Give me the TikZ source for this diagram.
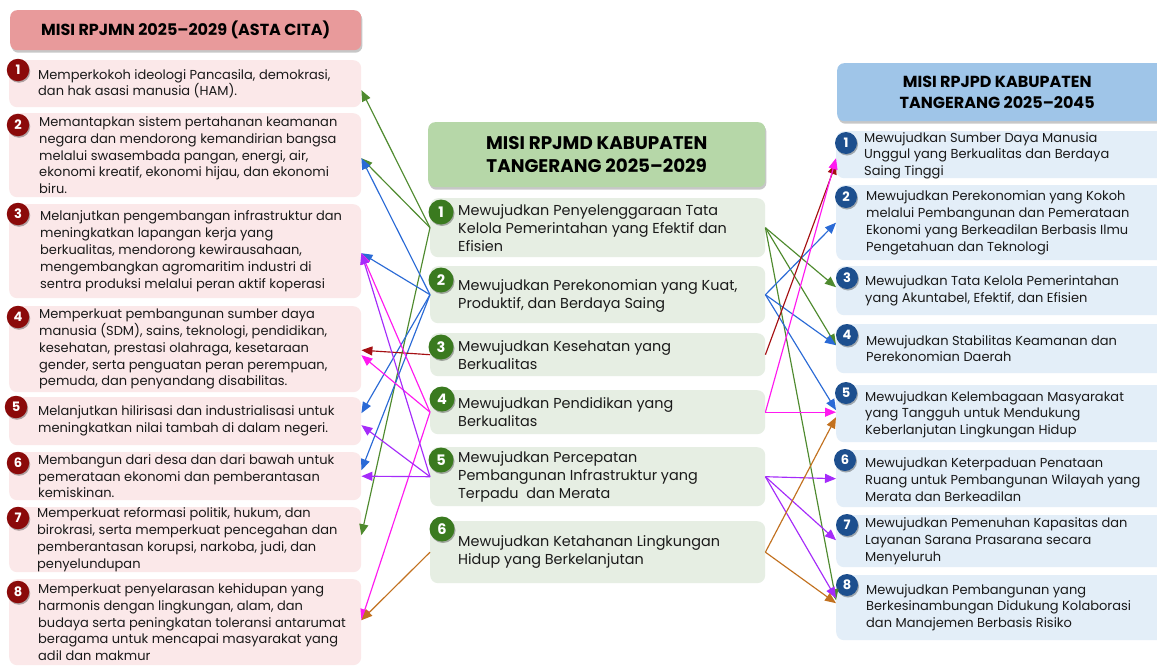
\documentclass[tikz,border=0pt]{standalone}
\usepackage{fontspec}
\setmainfont{Poppins}
\usetikzlibrary{arrows.meta,shadows}
\definecolor{lhead}{HTML}{E89A9B}
\definecolor{lfill}{HTML}{FBE8E9}
\definecolor{chead}{HTML}{B6D7A8}
\definecolor{cfill}{HTML}{E6EEE3}
\definecolor{rhead}{HTML}{9FC5E8}
\definecolor{rfill}{HTML}{E3EEF8}
\definecolor{lnumc}{HTML}{8B0A0A}
\definecolor{cnumc}{HTML}{3A7A1F}
\definecolor{rnumc}{HTML}{1D4F8E}
\definecolor{agreen}{HTML}{4E8A2E}
\definecolor{ablue}{HTML}{2A6AD6}
\definecolor{ared}{HTML}{A50F12}
\definecolor{amag}{HTML}{FF19F0}
\definecolor{apur}{HTML}{A52BFA}
\definecolor{abrown}{HTML}{C2711F}
\definecolor{txt}{HTML}{1A1A1A}
\newcommand{\misibox}[6]{\node[#1, minimum width=#6pt, minimum height={#5pt-#4pt}, anchor=north west] (#2) at (#3,#4) {};}
\begin{document}
\begin{tikzpicture}[x=1pt,y=-1pt,
  shd/.style={drop shadow={shadow xshift=1.2pt, shadow yshift=-2.5pt, fill=black, opacity=0.22}},
  hdr/.style={rounded corners=7pt, inner sep=0pt, align=center, text=black, shd},
  lbox/.style={fill=lfill, rounded corners=8pt, inner sep=0pt},
  cbox/.style={fill=cfill, rounded corners=8pt, inner sep=0pt},
  rbox/.style={fill=rfill, rounded corners=8pt, inner sep=0pt},
  ltxt/.style={align=left, inner sep=0pt, text=txt, font=\fontsize{13}{16.8}\selectfont},
  ctxt/.style={align=left, inner sep=0pt, text=txt, font=\fontsize{14.4}{18}\selectfont},
  rtxt/.style={align=left, inner sep=0pt, text=txt, font=\fontsize{13}{16.8}\selectfont},
  num/.style={circle, inner sep=0pt, text=white, font=\bfseries,
    drop shadow={shadow xshift=1pt, shadow yshift=-1.5pt, fill=black, opacity=0.3}},
  lnum/.style={num, fill=lnumc, minimum size=22.5pt, font=\bfseries\fontsize{13}{12}\selectfont},
  cnum/.style={num, fill=cnumc, minimum size=25pt, font=\bfseries\fontsize{14.5}{14}\selectfont},
  rnum/.style={num, fill=rnumc, minimum size=22pt, font=\bfseries\fontsize{13}{12}\selectfont},
  arr/.style={-{Triangle[length=11pt,width=9pt]}, line width=1.15pt}
]
\useasboundingbox (0,0) rectangle (1157,667);
\fill[white] (0,0) rectangle (1157,667);

% headers
\node[hdr, fill=lhead, minimum width=351pt, minimum height=40pt, anchor=north west,
  font=\bfseries\fontsize{16}{18}\selectfont] (LH) at (10,10) {MISI RPJMN 2025–2029 (ASTA CITA)};
\node[hdr, fill=chead, minimum width=337pt, minimum height=65pt, anchor=north west,
  font=\bfseries\fontsize{18.3}{23}\selectfont] (CH) at (428,122) {MISI RPJMD KABUPATEN\\TANGERANG 2025–2029};
\node[hdr, fill=rhead, minimum width=330pt, minimum height=58pt, anchor=north west,
  font=\bfseries\fontsize{16}{21}\selectfont] (RH) at (837,63) {\hspace*{-10pt}MISI RPJPD KABUPATEN\\\hspace*{-10pt}TANGERANG 2025–2045};

% left boxes
\misibox{lbox}{L1}{9}{60}{107}{352}
\misibox{lbox}{L2}{9}{113}{197}{352}
\misibox{lbox}{L3}{9}{204}{298}{352}
\misibox{lbox}{L4}{9}{306}{392}{352}
\misibox{lbox}{L5}{9}{397}{445}{352}
\misibox{lbox}{L6}{9}{452}{500}{352}
\misibox{lbox}{L7}{9}{507}{572}{352}
\misibox{lbox}{L8}{9}{579}{665}{352}

\node[ltxt, anchor=west] (L1t) at ([xshift=29pt]L1.west) {Memperkokoh ideologi Pancasila, demokrasi,\\dan hak asasi manusia (HAM).};
\node[ltxt, anchor=west] (L2t) at ([xshift=30pt]L2.west) {Memantapkan sistem pertahanan keamanan\\negara dan mendorong kemandirian bangsa\\melalui swasembada pangan, energi, air,\\ekonomi kreatif, ekonomi hijau, dan ekonomi\\biru.};
\node[ltxt, anchor=west] (L3t) at ([xshift=31pt]L3.west) {Melanjutkan pengembangan infrastruktur dan\\meningkatkan lapangan kerja yang\\berkualitas, mendorong kewirausahaan,\\mengembangkan agromaritim industri di\\sentra produksi melalui peran aktif koperasi};
\node[ltxt, anchor=west] (L4t) at ([xshift=30pt]L4.west) {Memperkuat pembangunan sumber daya\\manusia (SDM), sains, teknologi, pendidikan,\\kesehatan, prestasi olahraga, kesetaraan\\gender, serta penguatan peran perempuan,\\pemuda, dan penyandang disabilitas.};
\node[ltxt, anchor=west] (L5t) at ([xshift=29pt]L5.west) {Melanjutkan hilirisasi dan industrialisasi untuk\\meningkatkan nilai tambah di dalam negeri.};
\node[ltxt, anchor=west] (L6t) at ([xshift=29pt]L6.west) {Membangun dari desa dan dari bawah untuk\\pemerataan ekonomi dan pemberantasan\\kemiskinan.};
\node[ltxt, anchor=west] (L7t) at ([xshift=28pt]L7.west) {Memperkuat reformasi politik, hukum, dan\\birokrasi, serta memperkuat pencegahan dan\\pemberantasan korupsi, narkoba, judi, dan\\penyelundupan};
\node[ltxt, anchor=west] (L8t) at ([xshift=29pt]L8.west) {Memperkuat penyelarasan kehidupan yang\\harmonis dengan lingkungan, alam, dan\\budaya serta peningkatan toleransi antarumat\\beragama untuk mencapai masyarakat yang\\adil dan makmur};

\node[lnum] (L1n) at (18,70) {1};
\node[lnum] (L2n) at (18,125) {2};
\node[lnum] (L3n) at (18,214) {3};
\node[lnum] (L4n) at (18,317) {4};
\node[lnum] (L5n) at (16,407) {5};
\node[lnum] (L6n) at (18,463) {6};
\node[lnum] (L7n) at (18,518) {7};
\node[lnum] (L8n) at (18,592) {8};

% centre boxes
\misibox{cbox}{C1}{430}{198}{257}{335}
\misibox{cbox}{C2}{430}{266}{323}{335}
\misibox{cbox}{C3}{430}{333}{376}{335}
\misibox{cbox}{C4}{430}{390}{434}{335}
\misibox{cbox}{C5}{430}{447}{506}{335}
\misibox{cbox}{C6}{430}{521}{583}{335}

\node[ctxt, anchor=west] (C1t) at ([xshift=28pt]C1.west) {Mewujudkan Penyelenggaraan Tata\\Kelola Pemerintahan yang Efektif dan\\Efisien};
\node[ctxt, anchor=west] (C2t) at ([xshift=28pt,yshift=-1pt]C2.west) {Mewujudkan Perekonomian yang Kuat,\\Produktif, dan Berdaya Saing};
\node[ctxt, anchor=west] (C3t) at ([xshift=28pt]C3.west) {Mewujudkan Kesehatan yang\\Berkualitas};
\node[ctxt, anchor=west] (C4t) at ([xshift=28pt]C4.west) {Mewujudkan Pendidikan yang\\Berkualitas};
\node[ctxt, anchor=west] (C5t) at ([xshift=28pt]C5.west) {Mewujudkan Percepatan\\Pembangunan Infrastruktur yang\\Terpadu\ \ dan Merata};
\node[ctxt, anchor=west] (C6t) at ([xshift=28pt]C6.west) {Mewujudkan Ketahanan Lingkungan\\Hidup yang Berkelanjutan};

\node[cnum] (C1n) at (441,212) {1};
\node[cnum] (C2n) at (441,280) {2};
\node[cnum] (C3n) at (441,347) {3};
\node[cnum] (C4n) at (442,399) {4};
\node[cnum] (C5n) at (441,460) {5};
\node[cnum] (C6n) at (442,529) {6};

% right boxes
\misibox{rbox}{R1}{836}{131}{178}{330}
\misibox{rbox}{R2}{836}{185}{260}{330}
\misibox{rbox}{R3}{836}{266}{315}{330}
\misibox{rbox}{R4}{836}{324}{373}{330}
\misibox{rbox}{R5}{836}{385}{442}{330}
\misibox{rbox}{R6}{836}{450}{507}{330}
\misibox{rbox}{R7}{836}{515}{567}{330}
\misibox{rbox}{R8}{836}{575}{640}{330}

\node[rtxt, anchor=west] (R1t) at ([xshift=28pt,yshift=-1pt]R1.west) {Mewujudkan Sumber Daya Manusia\\Unggul yang Berkualitas dan Berdaya\\Saing Tinggi};
\node[rtxt, anchor=west] (R2t) at ([xshift=30pt]R2.west) {Mewujudkan Perekonomian yang Kokoh\\melalui Pembangunan dan Pemerataan\\Ekonomi yang Berkeadilan Berbasis Ilmu\\Pengetahuan dan Teknologi};
\node[rtxt, anchor=west] (R3t) at ([xshift=29pt]R3.west) {Mewujudkan Tata Kelola Pemerintahan\\yang Akuntabel, Efektif, dan Efisien};
\node[rtxt, anchor=west] (R4t) at ([xshift=30pt]R4.west) {Mewujudkan Stabilitas Keamanan dan\\Perekonomian Daerah};
\node[rtxt, anchor=west] (R5t) at ([xshift=29pt,yshift=-1pt]R5.west) {Mewujudkan Kelembagaan Masyarakat\\yang Tangguh untuk Mendukung\\Keberlanjutan Lingkungan Hidup};
\node[rtxt, anchor=west] (R6t) at ([xshift=29pt,yshift=-1pt]R6.west) {Mewujudkan Keterpaduan Penataan\\Ruang untuk Pembangunan Wilayah yang\\Merata dan Berkeadilan};
\node[rtxt, anchor=west] (R7t) at ([xshift=29pt]R7.west) {Mewujudkan Pemenuhan Kapasitas dan\\Layanan Sarana Prasarana secara\\Menyeluruh};
\node[rtxt, anchor=west] (R8t) at ([xshift=30pt]R8.west) {Mewujudkan Pembangunan yang\\Berkesinambungan Didukung Kolaborasi\\dan Manajemen Berbasis Risiko};

\node[rnum] (R1n) at (846,143) {1};
\node[rnum] (R2n) at (846,197) {2};
\node[rnum] (R3n) at (847,278) {3};
\node[rnum] (R4n) at (847,335) {4};
\node[rnum] (R5n) at (846,393) {5};
\node[rnum] (R6n) at (845,460) {6};
\node[rnum] (R7n) at (847,525) {7};
\node[rnum] (R8n) at (847,585) {8};

% connectors, left side
\draw[arr, agreen] (C1.west) -- ([yshift=-6.5pt]L1.east);
\draw[arr, agreen] (C1.west) -- ([yshift=-3pt]L2.east);
\draw[arr, agreen] (C1.west) -- ([yshift=4.5pt]L7.east);
\draw[arr, ablue] (C2.west) -- ([yshift=-3pt]L2.east);
\draw[arr, ablue] (C2.west) -- ([yshift=-2pt]L3.east);
\draw[arr, ablue] (C2.west) -- ([yshift=8pt]L5.east);
\draw[arr, ablue] (C2.west) -- ([yshift=6pt]L6.east);
\draw[arr, ared] (C3.west) -- ([yshift=-1pt]L4.east);
\draw[arr, amag] (C4.west) -- ([yshift=-2pt]L3.east);
\draw[arr, amag] (C4.west) -- ([yshift=-6pt]L4.east);
\draw[arr, amag] (C4.west) -- ([yshift=2pt]L8.east);
\draw[arr, apur] (C5.west) -- ([yshift=-2pt]L3.east);
\draw[arr, apur] (C5.west) -- ([yshift=-4pt]L5.east);
\draw[arr, apur] (C5.west) -- (L6.east);
\draw[arr, abrown] (C6.west) -- ([yshift=2pt]L8.east);

% connectors, right side
\draw[arr, agreen] (C1.east) -- ([yshift=3.5pt]R3.west);
\draw[arr, agreen] (C1.east) -- ([yshift=3.5pt]R4.west);
\draw[arr, agreen] (C1.east) -- ([yshift=7.5pt]R8.west);
\draw[arr, ablue] (C2.east) -- (R2.west);
\draw[arr, ablue] (C2.east) -- ([yshift=3.5pt]R4.west);
\draw[arr, ablue] (C2.east) -- ([yshift=3.5pt]R5.west);
\draw[arr, ared] (C3.east) -- ([yshift=-8.5pt]R1.west);
\draw[arr, amag] (C4.east) -- ([yshift=-3.5pt]R1.west);
\draw[arr, amag] (C4.east) -- ([yshift=1.5pt]R5.west);
\draw[arr, apur] (C5.east) -- (R6.west);
\draw[arr, apur] (C5.east) -- ([yshift=1pt]R7.west);
\draw[arr, apur] (C5.east) -- ([yshift=9.5pt]R8.west);
\draw[arr, abrown] (C6.east) -- ([yshift=-3.5pt]R5.west);
\draw[arr, abrown] (C6.east) -- ([yshift=4.5pt]R8.west);
\end{tikzpicture}
\end{document}
